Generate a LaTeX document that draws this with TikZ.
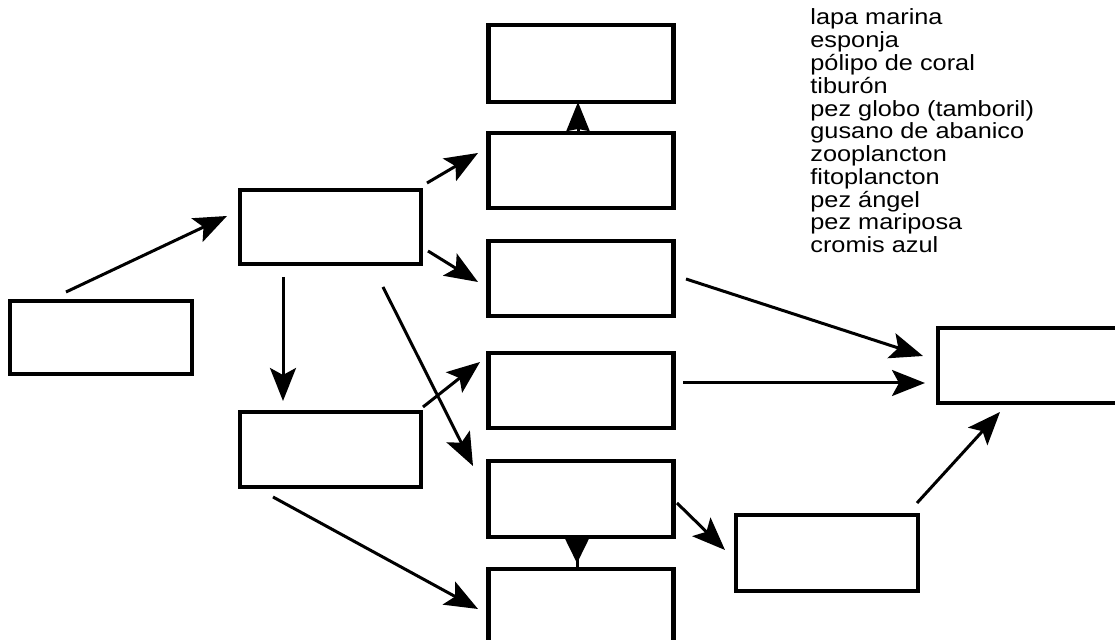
\documentclass[tikz,border=0pt]{standalone}
\usepackage{fontspec}
\newfontfamily\listfont[FakeStretch=1.15]{Liberation Sans}
\usetikzlibrary{arrows.meta,calc,decorations.markings}
\begin{document}
\begin{tikzpicture}[x=0.5pt,y=-0.5pt,
  box/.style={draw, line width=1.6pt, inner sep=0pt, outer sep=0pt},
  dbox/.style={box, line width=2.3pt, minimum width=92.5pt, minimum height=37.5pt},
  arr/.style={line width=1.5pt, -{Stealth[length=16.5pt,width=13pt,inset=3.5pt]}},
  stub/.style={line width=1.5pt, -{Stealth[length=14.5pt,width=11.5pt,inset=1pt]}},
  midhead/.style={line width=1.5pt, postaction={decorate},
    decoration={markings, mark=at position 0.82 with {\arrow{Stealth[length=13pt,width=12.5pt,inset=1pt]}}}},
]
\useasboundingbox (0,0) rectangle (1115,640);
% boxes
\node[box, minimum width=91pt, minimum height=36.5pt] (A) at (101,337.5) {};
\node[box, minimum width=90.5pt, minimum height=37pt] (B) at (330.5,227) {};
\node[box, minimum width=90.5pt, minimum height=37.5pt] (C) at (330.5,449.5) {};
\node[dbox, minimum height=38.5pt] (D1) at (581,63.5) {};
\node[dbox] (D2) at (581,170.5) {};
\node[dbox] (D3) at (581,278.5) {};
\node[dbox] (D4) at (581,390.5) {};
\node[dbox, minimum height=38pt] (D5) at (581,499) {};
\node[dbox] (D6) at (581,606.5) {};
\node[box, line width=2pt, minimum width=95pt, minimum height=37.5pt] (E) at (1033,365.5) {};
\node[box, line width=2.3pt, minimum width=91pt, minimum height=38pt] (F) at (827,553) {};
% word list
\node[anchor=base west, inner sep=0pt, font={\listfont\fontsize{11pt}{11.2pt}\selectfont}] (list) at (810,25)
  {\begin{tabular}[t]{@{}l@{}}
  lapa marina\\
  esponja\\
  pólipo de coral\\
  tiburón\\
  pez globo (tamboril)\\
  gusano de abanico\\
  zooplancton\\
  fitoplancton\\
  pez ángel\\
  pez mariposa\\
  cromis azul
  \end{tabular}};
% connectors
\draw[arr] ($(A.north west)+(56,-9)$) -- ($(B.west)+(-13,-11)$);
\draw[arr] ($(B.south)+(-47.5,13)$) -- ($(C.north)+(-47.5,-11)$);
\draw[arr] ($(B.north east)+(6,-7)$) -- ($(D2.west)+(-10.5,-17.5)$);
\draw[arr] ($(B.east)+(7,24)$) -- ($(D3.west)+(-10.5,3.5)$);
\draw[arr] ($(B.south east)+(-38,23)$) -- ($(D5.north west)+(-15.5,5)$);
\draw[arr] ($(C.north east)+(2,-5)$) -- ($(D4.west)+(-8.5,-28.5)$);
\draw[arr] ($(C.south west)+(33,10)$) -- ($(D6.west)+(-10.5,2.5)$);
\draw[stub] ($(D2.north)+(-3,0)$) -- ($(D1.south)+(-3,0)$);
\draw[arr] ($(D3.east)+(12.5,0.5)$) -- ($(E.west)+(-15,-9.5)$);
\draw[arr] ($(D4.east)+(9.5,-7.5)$) -- ($(E.west)+(-13,17.5)$);
\draw[arr] ($(D5.east)+(3.5,4)$) -- ($(F.north west)+(-11,35)$);
\draw[midhead] ($(D5.south)+(-4,0)$) -- ($(D6.north)+(-4,0)$);
\draw[arr] ($(F.north east)+(-1,-12)$) -- ($(E.south west)+(62,9)$);
\end{tikzpicture}
\end{document}
